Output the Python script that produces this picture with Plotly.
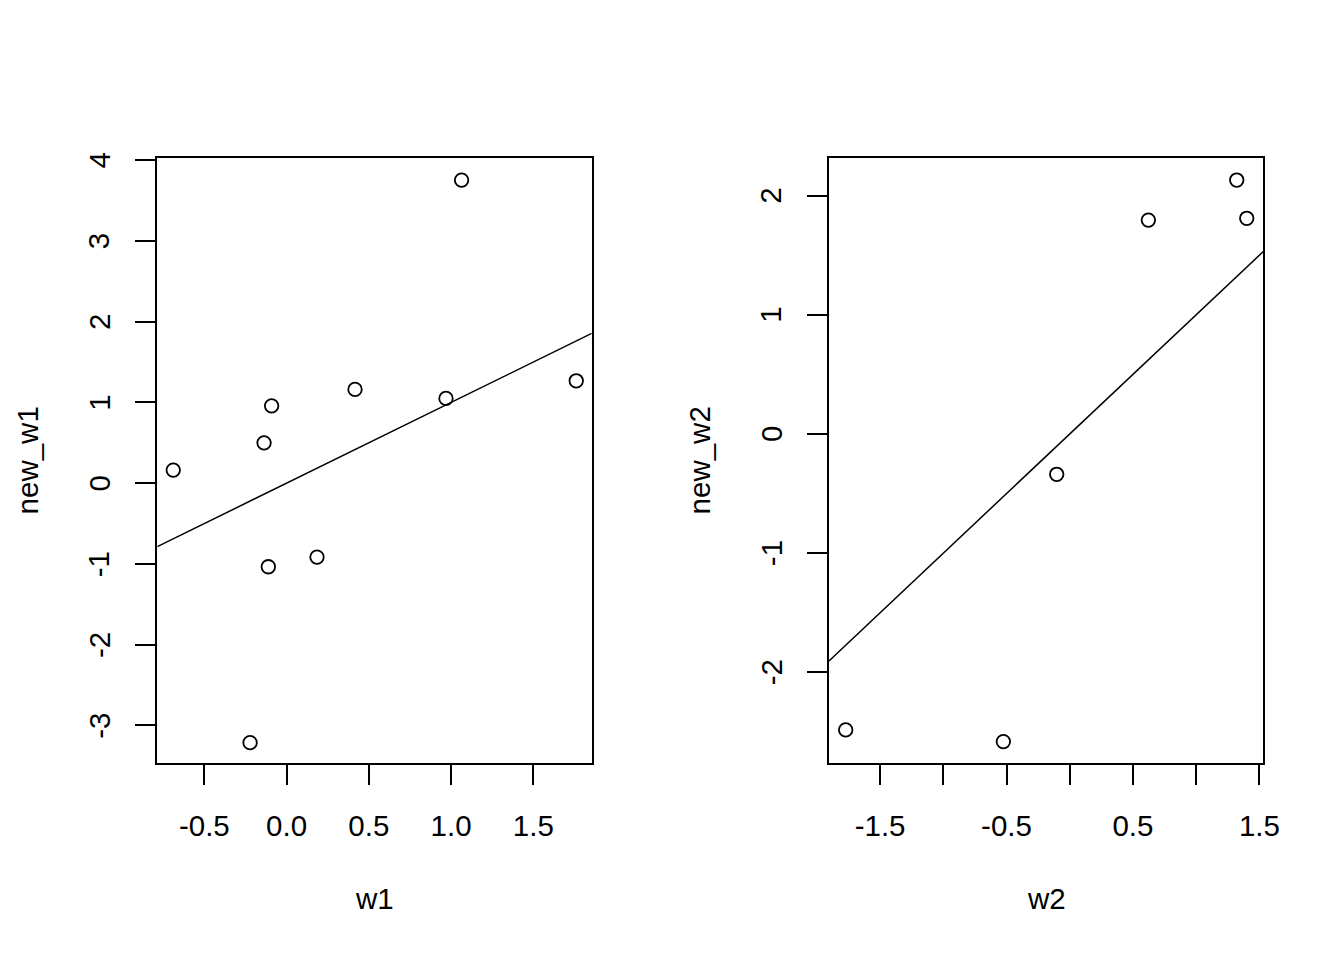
import plotly.graph_objects as go

# ---- data ----
w1 = [-0.689, -0.137, -0.091, -0.111, -0.222, 0.185, 0.416, 0.969, 1.064, 1.761]
new_w1 = [0.162, 0.500, 0.958, -1.035, -3.214, -0.915, 1.161, 1.050, 3.752, 1.268]

w2 = [-1.772, -0.525, -0.103, 0.622, 1.321, 1.400]
new_w2 = [-2.483, -2.581, -0.338, 1.795, 2.131, 1.810]

# reference line abline(a, b)
abline_intercept = 0.0
abline_slope = 1.0

x1_ticks = [-0.5, 0.0, 0.5, 1.0, 1.5]
x1_ticktext = ["-0.5", "0.0", "0.5", "1.0", "1.5"]
y1_ticks = [-3, -2, -1, 0, 1, 2, 3, 4]
y1_ticktext = ["-3", "-2", "-1", "0", "1", "2", "3", "4"]

x2_ticks = [-1.5, -1.0, -0.5, 0.0, 0.5, 1.0, 1.5]
x2_ticktext = ["-1.5", "", "-0.5", "", "0.5", "", "1.5"]
y2_ticks = [-2, -1, 0, 1, 2]
y2_ticktext = ["-2", "-1", "0", "1", "2"]

x1_range = [-0.786, 1.855]
y1_range = [-3.469, 4.033]
x2_range = [-1.904, 1.531]
y2_range = [-2.763, 2.320]

# ---- figure ----
W, H = 1344, 960
FONT = "Liberation Sans, Arial, Helvetica, sans-serif"
FS = 29.5
TXT = dict(family=FONT, size=FS, color="black")

fig = go.Figure()

marker = dict(symbol="circle-open", size=13.5, color="black", line=dict(width=1.8, color="black"))

fig.add_trace(go.Scatter(x=w1, y=new_w1, mode="markers", marker=marker,
                         xaxis="x", yaxis="y", showlegend=False))
fig.add_trace(go.Scatter(x=x1_range, y=[abline_intercept + abline_slope * v for v in x1_range],
                         mode="lines", line=dict(color="black", width=1.5),
                         xaxis="x", yaxis="y", showlegend=False))

fig.add_trace(go.Scatter(x=w2, y=new_w2, mode="markers", marker=marker,
                         xaxis="x2", yaxis="y2", showlegend=False))
fig.add_trace(go.Scatter(x=x2_range, y=[abline_intercept + abline_slope * v for v in x2_range],
                         mode="lines", line=dict(color="black", width=1.5),
                         xaxis="x2", yaxis="y2", showlegend=False))

ydom = [1 - 763.3 / H, 1 - 157.5 / H]
x1dom = [157.3 / W, 591.7 / W]
x2dom = [829.0 / W, 1263.3 / W]

common_x = dict(showgrid=False, zeroline=False, showline=True, mirror=True,
                linecolor="black", linewidth=1.7, ticks="outside", ticklen=20,
                tickwidth=1.7, tickcolor="black", automargin=False,
                tickfont=TXT, ticklabelstandoff=15, fixedrange=True)
common_y = dict(common_x)
common_y.update(showticklabels=False)

annotations = [
    dict(text="w1", xref="paper", yref="paper",
         x=(x1dom[0] + x1dom[1]) / 2, y=1 - 898 / H,
         showarrow=False, xanchor="center", yanchor="middle", font=TXT),
    dict(text="w2", xref="paper", yref="paper",
         x=(x2dom[0] + x2dom[1]) / 2, y=1 - 898 / H,
         showarrow=False, xanchor="center", yanchor="middle", font=TXT),
    dict(text="new_w1", xref="paper", yref="paper",
         x=27 / W, y=(ydom[0] + ydom[1]) / 2, textangle=-90,
         showarrow=False, xanchor="center", yanchor="middle", font=TXT),
    dict(text="new_w2", xref="paper", yref="paper",
         x=699 / W, y=(ydom[0] + ydom[1]) / 2, textangle=-90,
         showarrow=False, xanchor="center", yanchor="middle", font=TXT),
]

# y tick labels, parallel to the axis (R style), placed at the tick values
for vals, texts, yref, xdom in [(y1_ticks, y1_ticktext, "y", x1dom),
                                (y2_ticks, y2_ticktext, "y2", x2dom)]:
    for v, t in zip(vals, texts):
        annotations.append(dict(text=t, xref="paper", yref=yref,
                                x=xdom[0] - 58 / W, y=v, textangle=-90,
                                showarrow=False, xanchor="center", yanchor="middle",
                                font=TXT))

fig.update_layout(
    template="none",
    width=W, height=H, autosize=False,
    margin=dict(l=0, r=0, t=0, b=0, pad=0),
    paper_bgcolor="white", plot_bgcolor="white",
    font=TXT,
    xaxis=dict(domain=x1dom, range=x1_range, tickvals=x1_ticks, ticktext=x1_ticktext,
               anchor="y", **common_x),
    yaxis=dict(domain=ydom, range=y1_range, tickvals=y1_ticks, ticktext=y1_ticktext,
               anchor="x", **common_y),
    xaxis2=dict(domain=x2dom, range=x2_range, tickvals=x2_ticks, ticktext=x2_ticktext,
                anchor="y2", **common_x),
    yaxis2=dict(domain=ydom, range=y2_range, tickvals=y2_ticks, ticktext=y2_ticktext,
                anchor="x2", **common_y),
    annotations=annotations,
)

fig.write_html("out.html", config={"displayModeBar": False},
               post_script="document.body.style.margin='0';document.body.style.overflow='hidden';")
